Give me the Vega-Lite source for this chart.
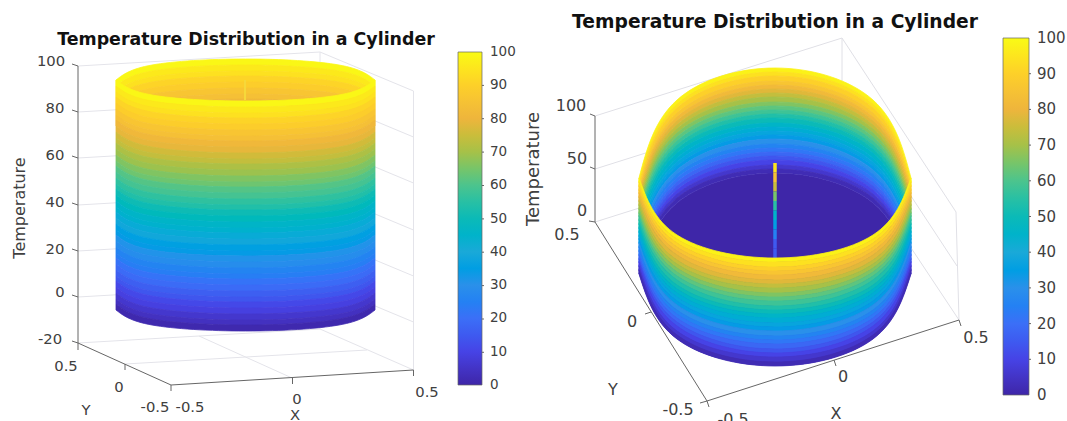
{"$schema":"https://vega.github.io/schema/vega-lite/v6.json","padding":0,"background":"white","spacing":0,"config":{"view":{"stroke":null},"text":{"font":"DejaVu Sans","color":"#404040"},"title":{"font":"DejaVu Sans","fontWeight":"bold","color":"#111"},"legend":{"labelFont":"DejaVu Sans","labelColor":"#404040"}},
"resolve":{"scale":{"color":"independent","stroke":"independent"}},
"datasets":{
"lgrid":[{"a":78,"b":66,"a2":320,"b2":52},{"a":320,"b":52,"a2":413.5,"b2":91},{"a":78,"b":112,"a2":320,"b2":98},{"a":320,"b":98,"a2":413.5,"b2":137},{"a":78,"b":158,"a2":320,"b2":144},{"a":320,"b":144,"a2":413.5,"b2":183},{"a":78,"b":205,"a2":320,"b2":191},{"a":320,"b":191,"a2":413.5,"b2":230},{"a":78,"b":251,"a2":320,"b2":237},{"a":320,"b":237,"a2":413.5,"b2":276},{"a":78,"b":297,"a2":320,"b2":283},{"a":320,"b":283,"a2":413.5,"b2":322},{"a":78,"b":343,"a2":320,"b2":329},{"a":320,"b":329,"a2":413.5,"b2":370},{"a":320,"b":52,"a2":320,"b2":329},{"a":413.5,"b":91,"a2":413.5,"b2":370},{"a":292,"b":378,"a2":199,"b2":336},{"a":125,"b":364,"a2":367,"b2":350}],
"laxis":[{"a":78,"b":66,"a2":78,"b2":350},{"a":78,"b":343,"a2":171,"b2":385},{"a":171,"b":385,"a2":413.5,"b2":370},{"a":72,"b":64,"a2":78,"b2":66},{"a":72,"b":110,"a2":78,"b2":112},{"a":72,"b":156,"a2":78,"b2":158},{"a":72,"b":203,"a2":78,"b2":205},{"a":72,"b":249,"a2":78,"b2":251},{"a":72,"b":295,"a2":78,"b2":297},{"a":72,"b":341,"a2":78,"b2":343},{"a":125,"b":364,"a2":125,"b2":370},{"a":292.5,"b":378,"a2":292.5,"b2":384},{"a":413.5,"b":370,"a2":413.5,"b2":376},{"a":171,"b":385,"a2":171,"b2":391},{"a":481,"b":352.3,"a2":484,"b2":352.3},{"a":481,"b":319,"a2":484,"b2":319},{"a":481,"b":285.6,"a2":484,"b2":285.6},{"a":481,"b":252.2,"a2":484,"b2":252.2},{"a":481,"b":218.9,"a2":484,"b2":218.9},{"a":481,"b":185.5,"a2":484,"b2":185.5},{"a":481,"b":152.1,"a2":484,"b2":152.1},{"a":481,"b":118.7,"a2":484,"b2":118.7},{"a":481,"b":85.4,"a2":484,"b2":85.4}],
"lspike":[{"T":92,"a":245,"b":80,"a2":245,"b2":100}],
"ltext":[{"t":"100","a":51,"b":62},{"t":"80","a":55,"b":109},{"t":"60","a":55,"b":156},{"t":"40","a":55,"b":203},{"t":"20","a":55,"b":250},{"t":"0","a":60,"b":293},{"t":"-20","a":50,"b":340},{"t":"0.5","a":66,"b":367},{"t":"0","a":119,"b":388},{"t":"-0.5","a":155,"b":408},{"t":"-0.5","a":190,"b":408},{"t":"0","a":297,"b":400},{"t":"0.5","a":427,"b":393},{"t":"Y","a":86,"b":411},{"t":"X","a":295,"b":416}],
"ltitle":[{"t":"Temperature","a":20,"b":208}],
"lback":[
{"T":99,"a":116,"b":80,"c":86},{"T":99,"a":152,"b":65,"c":71},{"T":99,"a":245.5,"b":59,"c":65},{"T":99,"a":339,"b":65,"c":71},{"T":99,"a":375,"b":80,"c":86},
{"T":96,"a":116,"b":86,"c":92},{"T":96,"a":152,"b":71,"c":77},{"T":96,"a":245.5,"b":65,"c":71},{"T":96,"a":339,"b":71,"c":77},{"T":96,"a":375,"b":86,"c":92},
{"T":94,"a":116,"b":92,"c":97},{"T":94,"a":152,"b":77,"c":82},{"T":94,"a":245.5,"b":71,"c":76},{"T":94,"a":339,"b":77,"c":82},{"T":94,"a":375,"b":92,"c":97},
{"T":91,"a":116,"b":97,"c":103},{"T":91,"a":152,"b":82,"c":88},{"T":91,"a":245.5,"b":76,"c":82},{"T":91,"a":339,"b":82,"c":88},{"T":91,"a":375,"b":97,"c":103},
{"T":89,"a":116,"b":103,"c":109},{"T":89,"a":152,"b":88,"c":94},{"T":89,"a":245.5,"b":82,"c":88},{"T":89,"a":339,"b":88,"c":94},{"T":89,"a":375,"b":103,"c":109},
{"T":86,"a":116,"b":109,"c":115},{"T":86,"a":152,"b":94,"c":100},{"T":86,"a":245.5,"b":88,"c":94},{"T":86,"a":339,"b":94,"c":100},{"T":86,"a":375,"b":109,"c":115},
{"T":84,"a":116,"b":115,"c":120},{"T":84,"a":152,"b":100,"c":105},{"T":84,"a":245.5,"b":94,"c":99},{"T":84,"a":339,"b":100,"c":105},{"T":84,"a":375,"b":115,"c":120},
{"T":81,"a":116,"b":120,"c":126},{"T":81,"a":152,"b":105,"c":111},{"T":81,"a":245.5,"b":99,"c":105},{"T":81,"a":339,"b":105,"c":111},{"T":81,"a":375,"b":120,"c":126}],
"lfront":[
{"T":99,"a":116,"b":80,"c":86},{"T":99,"a":152,"b":95,"c":101},{"T":99,"a":245.5,"b":101,"c":107},{"T":99,"a":339,"b":95,"c":101},{"T":99,"a":375,"b":80,"c":86},
{"T":96,"a":116,"b":86,"c":92},{"T":96,"a":152,"b":101,"c":107},{"T":96,"a":245.5,"b":107,"c":113},{"T":96,"a":339,"b":101,"c":107},{"T":96,"a":375,"b":86,"c":92},
{"T":94,"a":116,"b":92,"c":97},{"T":94,"a":152,"b":107,"c":112},{"T":94,"a":245.5,"b":113,"c":118},{"T":94,"a":339,"b":107,"c":112},{"T":94,"a":375,"b":92,"c":97},
{"T":91,"a":116,"b":97,"c":103},{"T":91,"a":152,"b":112,"c":118},{"T":91,"a":245.5,"b":118,"c":124},{"T":91,"a":339,"b":112,"c":118},{"T":91,"a":375,"b":97,"c":103},
{"T":89,"a":116,"b":103,"c":109},{"T":89,"a":152,"b":118,"c":124},{"T":89,"a":245.5,"b":124,"c":130},{"T":89,"a":339,"b":118,"c":124},{"T":89,"a":375,"b":103,"c":109},
{"T":86,"a":116,"b":109,"c":115},{"T":86,"a":152,"b":124,"c":130},{"T":86,"a":245.5,"b":130,"c":136},{"T":86,"a":339,"b":124,"c":130},{"T":86,"a":375,"b":109,"c":115},
{"T":84,"a":116,"b":115,"c":120},{"T":84,"a":152,"b":130,"c":135},{"T":84,"a":245.5,"b":136,"c":141},{"T":84,"a":339,"b":130,"c":135},{"T":84,"a":375,"b":115,"c":120},
{"T":81,"a":116,"b":120,"c":126},{"T":81,"a":152,"b":135,"c":141},{"T":81,"a":245.5,"b":141,"c":147},{"T":81,"a":339,"b":135,"c":141},{"T":81,"a":375,"b":120,"c":126},
{"T":79,"a":116,"b":126,"c":132},{"T":79,"a":152,"b":141,"c":147},{"T":79,"a":245.5,"b":147,"c":153},{"T":79,"a":339,"b":141,"c":147},{"T":79,"a":375,"b":126,"c":132},
{"T":76,"a":116,"b":132,"c":138},{"T":76,"a":152,"b":147,"c":153},{"T":76,"a":245.5,"b":153,"c":159},{"T":76,"a":339,"b":147,"c":153},{"T":76,"a":375,"b":132,"c":138},
{"T":74,"a":116,"b":138,"c":143},{"T":74,"a":152,"b":153,"c":158},{"T":74,"a":245.5,"b":159,"c":164},{"T":74,"a":339,"b":153,"c":158},{"T":74,"a":375,"b":138,"c":143},
{"T":71,"a":116,"b":143,"c":149},{"T":71,"a":152,"b":158,"c":164},{"T":71,"a":245.5,"b":164,"c":170},{"T":71,"a":339,"b":158,"c":164},{"T":71,"a":375,"b":143,"c":149},
{"T":69,"a":116,"b":149,"c":155},{"T":69,"a":152,"b":164,"c":170},{"T":69,"a":245.5,"b":170,"c":176},{"T":69,"a":339,"b":164,"c":170},{"T":69,"a":375,"b":149,"c":155},
{"T":66,"a":116,"b":155,"c":161},{"T":66,"a":152,"b":170,"c":176},{"T":66,"a":245.5,"b":176,"c":182},{"T":66,"a":339,"b":170,"c":176},{"T":66,"a":375,"b":155,"c":161},
{"T":64,"a":116,"b":161,"c":166},{"T":64,"a":152,"b":176,"c":181},{"T":64,"a":245.5,"b":182,"c":187},{"T":64,"a":339,"b":176,"c":181},{"T":64,"a":375,"b":161,"c":166},
{"T":61,"a":116,"b":166,"c":172},{"T":61,"a":152,"b":181,"c":187},{"T":61,"a":245.5,"b":187,"c":193},{"T":61,"a":339,"b":181,"c":187},{"T":61,"a":375,"b":166,"c":172},
{"T":59,"a":116,"b":172,"c":178},{"T":59,"a":152,"b":187,"c":193},{"T":59,"a":245.5,"b":193,"c":199},{"T":59,"a":339,"b":187,"c":193},{"T":59,"a":375,"b":172,"c":178},
{"T":56,"a":116,"b":178,"c":184},{"T":56,"a":152,"b":193,"c":199},{"T":56,"a":245.5,"b":199,"c":205},{"T":56,"a":339,"b":193,"c":199},{"T":56,"a":375,"b":178,"c":184},
{"T":54,"a":116,"b":184,"c":189},{"T":54,"a":152,"b":199,"c":204},{"T":54,"a":245.5,"b":205,"c":210},{"T":54,"a":339,"b":199,"c":204},{"T":54,"a":375,"b":184,"c":189},
{"T":51,"a":116,"b":189,"c":195},{"T":51,"a":152,"b":204,"c":210},{"T":51,"a":245.5,"b":210,"c":216},{"T":51,"a":339,"b":204,"c":210},{"T":51,"a":375,"b":189,"c":195},
{"T":49,"a":116,"b":195,"c":201},{"T":49,"a":152,"b":210,"c":216},{"T":49,"a":245.5,"b":216,"c":222},{"T":49,"a":339,"b":210,"c":216},{"T":49,"a":375,"b":195,"c":201},
{"T":46,"a":116,"b":201,"c":207},{"T":46,"a":152,"b":216,"c":222},{"T":46,"a":245.5,"b":222,"c":228},{"T":46,"a":339,"b":216,"c":222},{"T":46,"a":375,"b":201,"c":207},
{"T":44,"a":116,"b":207,"c":212},{"T":44,"a":152,"b":222,"c":227},{"T":44,"a":245.5,"b":228,"c":233},{"T":44,"a":339,"b":222,"c":227},{"T":44,"a":375,"b":207,"c":212},
{"T":41,"a":116,"b":212,"c":218},{"T":41,"a":152,"b":227,"c":233},{"T":41,"a":245.5,"b":233,"c":239},{"T":41,"a":339,"b":227,"c":233},{"T":41,"a":375,"b":212,"c":218},
{"T":39,"a":116,"b":218,"c":224},{"T":39,"a":152,"b":233,"c":239},{"T":39,"a":245.5,"b":239,"c":245},{"T":39,"a":339,"b":233,"c":239},{"T":39,"a":375,"b":218,"c":224},
{"T":36,"a":116,"b":224,"c":230},{"T":36,"a":152,"b":239,"c":245},{"T":36,"a":245.5,"b":245,"c":251},{"T":36,"a":339,"b":239,"c":245},{"T":36,"a":375,"b":224,"c":230},
{"T":34,"a":116,"b":230,"c":235},{"T":34,"a":152,"b":245,"c":250},{"T":34,"a":245.5,"b":251,"c":256},{"T":34,"a":339,"b":245,"c":250},{"T":34,"a":375,"b":230,"c":235},
{"T":31,"a":116,"b":235,"c":241},{"T":31,"a":152,"b":250,"c":256},{"T":31,"a":245.5,"b":256,"c":262},{"T":31,"a":339,"b":250,"c":256},{"T":31,"a":375,"b":235,"c":241},
{"T":29,"a":116,"b":241,"c":247},{"T":29,"a":152,"b":256,"c":262},{"T":29,"a":245.5,"b":262,"c":268},{"T":29,"a":339,"b":256,"c":262},{"T":29,"a":375,"b":241,"c":247},
{"T":26,"a":116,"b":247,"c":253},{"T":26,"a":152,"b":262,"c":268},{"T":26,"a":245.5,"b":268,"c":274},{"T":26,"a":339,"b":262,"c":268},{"T":26,"a":375,"b":247,"c":253},
{"T":24,"a":116,"b":253,"c":258},{"T":24,"a":152,"b":268,"c":273},{"T":24,"a":245.5,"b":274,"c":279},{"T":24,"a":339,"b":268,"c":273},{"T":24,"a":375,"b":253,"c":258},
{"T":21,"a":116,"b":258,"c":264},{"T":21,"a":152,"b":273,"c":279},{"T":21,"a":245.5,"b":279,"c":285},{"T":21,"a":339,"b":273,"c":279},{"T":21,"a":375,"b":258,"c":264},
{"T":19,"a":116,"b":264,"c":270},{"T":19,"a":152,"b":279,"c":285},{"T":19,"a":245.5,"b":285,"c":291},{"T":19,"a":339,"b":279,"c":285},{"T":19,"a":375,"b":264,"c":270},
{"T":16,"a":116,"b":270,"c":276},{"T":16,"a":152,"b":285,"c":291},{"T":16,"a":245.5,"b":291,"c":297},{"T":16,"a":339,"b":285,"c":291},{"T":16,"a":375,"b":270,"c":276},
{"T":14,"a":116,"b":276,"c":281},{"T":14,"a":152,"b":291,"c":296},{"T":14,"a":245.5,"b":297,"c":302},{"T":14,"a":339,"b":291,"c":296},{"T":14,"a":375,"b":276,"c":281},
{"T":11,"a":116,"b":281,"c":287},{"T":11,"a":152,"b":296,"c":302},{"T":11,"a":245.5,"b":302,"c":308},{"T":11,"a":339,"b":296,"c":302},{"T":11,"a":375,"b":281,"c":287},
{"T":9,"a":116,"b":287,"c":293},{"T":9,"a":152,"b":302,"c":308},{"T":9,"a":245.5,"b":308,"c":314},{"T":9,"a":339,"b":302,"c":308},{"T":9,"a":375,"b":287,"c":293},
{"T":6,"a":116,"b":293,"c":299},{"T":6,"a":152,"b":308,"c":314},{"T":6,"a":245.5,"b":314,"c":320},{"T":6,"a":339,"b":308,"c":314},{"T":6,"a":375,"b":293,"c":299},
{"T":4,"a":116,"b":299,"c":304},{"T":4,"a":152,"b":314,"c":319},{"T":4,"a":245.5,"b":320,"c":325},{"T":4,"a":339,"b":314,"c":319},{"T":4,"a":375,"b":299,"c":304},
{"T":1,"a":116,"b":304,"c":310},{"T":1,"a":152,"b":319,"c":325},{"T":1,"a":245.5,"b":325,"c":331},{"T":1,"a":339,"b":319,"c":325},{"T":1,"a":375,"b":304,"c":310}],
"rgrid":[{"a":595,"b":116,"a2":842,"b2":38},{"a":595,"b":169,"a2":842,"b2":91},{"a":595,"b":222,"a2":842,"b2":144},{"a":842,"b":38,"a2":956,"b2":212},{"a":842,"b":91,"a2":957,"b2":266},{"a":842,"b":144,"a2":959,"b2":320},{"a":842,"b":38,"a2":842,"b2":144},{"a":956,"b":212,"a2":959,"b2":320}],
"raxis":[{"a":595,"b":116,"a2":595,"b2":222},{"a":595,"b":222,"a2":707,"b2":401},{"a":707,"b":401,"a2":959,"b2":320},{"a":590,"b":114,"a2":595,"b2":116},{"a":590,"b":167,"a2":595,"b2":169},{"a":589,"b":221,"a2":595,"b2":222},{"a":645,"b":314,"a2":651,"b2":312},{"a":700,"b":403,"a2":707,"b2":401},{"a":834,"b":360,"a2":836,"b2":366},{"a":959,"b":320,"a2":961,"b2":326},{"a":707,"b":401,"a2":709,"b2":407},{"a":1028,"b":359.3,"a2":1031,"b2":359.3},{"a":1028,"b":323.6,"a2":1031,"b2":323.6},{"a":1028,"b":287.9,"a2":1031,"b2":287.9},{"a":1028,"b":252.2,"a2":1031,"b2":252.2},{"a":1028,"b":216.5,"a2":1031,"b2":216.5},{"a":1028,"b":180.8,"a2":1031,"b2":180.8},{"a":1028,"b":145.1,"a2":1031,"b2":145.1},{"a":1028,"b":109.4,"a2":1031,"b2":109.4},{"a":1028,"b":73.7,"a2":1031,"b2":73.7}],
"rspike":[{"T":95,"a":775,"b":163,"a2":775,"b2":172.5},{"T":85,"a":775,"b":172.5,"a2":775,"b2":182},{"T":75,"a":775,"b":182,"a2":775,"b2":191.5},{"T":65,"a":775,"b":191.5,"a2":775,"b2":201},{"T":55,"a":775,"b":201,"a2":775,"b2":210.5},{"T":45,"a":775,"b":210.5,"a2":775,"b2":220},{"T":35,"a":775,"b":220,"a2":775,"b2":229.5},{"T":25,"a":775,"b":229.5,"a2":775,"b2":239},{"T":15,"a":775,"b":239,"a2":775,"b2":248.5},{"T":15,"a":775,"b":248.5,"a2":775,"b2":258}],
"rtext":[{"t":"100","a":571,"b":106},{"t":"50","a":577,"b":159},{"t":"0","a":582,"b":211},{"t":"0.5","a":567,"b":235},{"t":"0","a":632,"b":322},{"t":"-0.5","a":678,"b":410},{"t":"-0.5","a":733,"b":420},{"t":"0","a":843,"b":377},{"t":"0.5","a":976,"b":338},{"t":"Y","a":613,"b":390},{"t":"X","a":836,"b":414}],
"rtitle":[{"t":"Temperature","a":534,"b":169}],
"rfloor":[{"a":639,"b":274,"c":274},{"a":677,"b":203,"c":339},{"a":775,"b":173,"c":366},{"a":873,"b":203,"c":339},{"a":911,"b":274,"c":274}],
"rback":[
{"T":98,"a":639,"b":178,"c":182},{"T":98,"a":677,"b":100,"c":104},{"T":98,"a":775,"b":68,"c":72},{"T":98,"a":873,"b":100,"c":104},{"T":98,"a":911,"b":178,"c":182},
{"T":94,"a":639,"b":182,"c":186},{"T":94,"a":677,"b":104,"c":108},{"T":94,"a":775,"b":72,"c":76},{"T":94,"a":873,"b":104,"c":108},{"T":94,"a":911,"b":182,"c":186},
{"T":90,"a":639,"b":186,"c":190},{"T":90,"a":677,"b":108,"c":113},{"T":90,"a":775,"b":76,"c":81},{"T":90,"a":873,"b":108,"c":113},{"T":90,"a":911,"b":186,"c":190},
{"T":86,"a":639,"b":190,"c":193},{"T":86,"a":677,"b":113,"c":117},{"T":86,"a":775,"b":81,"c":85},{"T":86,"a":873,"b":113,"c":117},{"T":86,"a":911,"b":190,"c":193},
{"T":82,"a":639,"b":193,"c":197},{"T":82,"a":677,"b":117,"c":121},{"T":82,"a":775,"b":85,"c":89},{"T":82,"a":873,"b":117,"c":121},{"T":82,"a":911,"b":193,"c":197},
{"T":78,"a":639,"b":197,"c":201},{"T":78,"a":677,"b":121,"c":125},{"T":78,"a":775,"b":89,"c":93},{"T":78,"a":873,"b":121,"c":125},{"T":78,"a":911,"b":197,"c":201},
{"T":74,"a":639,"b":201,"c":205},{"T":74,"a":677,"b":125,"c":129},{"T":74,"a":775,"b":93,"c":97},{"T":74,"a":873,"b":125,"c":129},{"T":74,"a":911,"b":201,"c":205},
{"T":70,"a":639,"b":205,"c":209},{"T":70,"a":677,"b":129,"c":133},{"T":70,"a":775,"b":97,"c":102},{"T":70,"a":873,"b":129,"c":133},{"T":70,"a":911,"b":205,"c":209},
{"T":66,"a":639,"b":209,"c":213},{"T":66,"a":677,"b":133,"c":137},{"T":66,"a":775,"b":102,"c":106},{"T":66,"a":873,"b":133,"c":137},{"T":66,"a":911,"b":209,"c":213},
{"T":62,"a":639,"b":213,"c":216},{"T":62,"a":677,"b":137,"c":141},{"T":62,"a":775,"b":106,"c":110},{"T":62,"a":873,"b":137,"c":141},{"T":62,"a":911,"b":213,"c":216},
{"T":58,"a":639,"b":216,"c":220},{"T":58,"a":677,"b":141,"c":145},{"T":58,"a":775,"b":110,"c":114},{"T":58,"a":873,"b":141,"c":145},{"T":58,"a":911,"b":216,"c":220},
{"T":54,"a":639,"b":220,"c":224},{"T":54,"a":677,"b":145,"c":149},{"T":54,"a":775,"b":114,"c":118},{"T":54,"a":873,"b":145,"c":149},{"T":54,"a":911,"b":220,"c":224},
{"T":50,"a":639,"b":224,"c":228},{"T":50,"a":677,"b":149,"c":153},{"T":50,"a":775,"b":118,"c":123},{"T":50,"a":873,"b":149,"c":153},{"T":50,"a":911,"b":224,"c":228},
{"T":46,"a":639,"b":228,"c":232},{"T":46,"a":677,"b":153,"c":158},{"T":46,"a":775,"b":123,"c":127},{"T":46,"a":873,"b":153,"c":158},{"T":46,"a":911,"b":228,"c":232},
{"T":42,"a":639,"b":232,"c":236},{"T":42,"a":677,"b":158,"c":162},{"T":42,"a":775,"b":127,"c":131},{"T":42,"a":873,"b":158,"c":162},{"T":42,"a":911,"b":232,"c":236},
{"T":38,"a":639,"b":236,"c":239},{"T":38,"a":677,"b":162,"c":166},{"T":38,"a":775,"b":131,"c":135},{"T":38,"a":873,"b":162,"c":166},{"T":38,"a":911,"b":236,"c":239},
{"T":34,"a":639,"b":239,"c":243},{"T":34,"a":677,"b":166,"c":170},{"T":34,"a":775,"b":135,"c":139},{"T":34,"a":873,"b":166,"c":170},{"T":34,"a":911,"b":239,"c":243},
{"T":30,"a":639,"b":243,"c":247},{"T":30,"a":677,"b":170,"c":174},{"T":30,"a":775,"b":139,"c":144},{"T":30,"a":873,"b":170,"c":174},{"T":30,"a":911,"b":243,"c":247},
{"T":26,"a":639,"b":247,"c":251},{"T":26,"a":677,"b":174,"c":178},{"T":26,"a":775,"b":144,"c":148},{"T":26,"a":873,"b":174,"c":178},{"T":26,"a":911,"b":247,"c":251},
{"T":22,"a":639,"b":251,"c":255},{"T":22,"a":677,"b":178,"c":182},{"T":22,"a":775,"b":148,"c":152},{"T":22,"a":873,"b":178,"c":182},{"T":22,"a":911,"b":251,"c":255},
{"T":18,"a":639,"b":255,"c":259},{"T":18,"a":677,"b":182,"c":186},{"T":18,"a":775,"b":152,"c":156},{"T":18,"a":873,"b":182,"c":186},{"T":18,"a":911,"b":255,"c":259},
{"T":14,"a":639,"b":259,"c":262},{"T":14,"a":677,"b":186,"c":190},{"T":14,"a":775,"b":156,"c":160},{"T":14,"a":873,"b":186,"c":190},{"T":14,"a":911,"b":259,"c":262},
{"T":10,"a":639,"b":262,"c":266},{"T":10,"a":677,"b":190,"c":194},{"T":10,"a":775,"b":160,"c":165},{"T":10,"a":873,"b":190,"c":194},{"T":10,"a":911,"b":262,"c":266},
{"T":6,"a":639,"b":266,"c":270},{"T":6,"a":677,"b":194,"c":198},{"T":6,"a":775,"b":165,"c":169},{"T":6,"a":873,"b":194,"c":198},{"T":6,"a":911,"b":266,"c":270},
{"T":2,"a":639,"b":270,"c":274},{"T":2,"a":677,"b":198,"c":203},{"T":2,"a":775,"b":169,"c":173},{"T":2,"a":873,"b":198,"c":203},{"T":2,"a":911,"b":270,"c":274}],
"rfront":[
{"T":98,"a":639,"b":178,"c":182},{"T":98,"a":677,"b":235,"c":239},{"T":98,"a":775,"b":258,"c":262},{"T":98,"a":873,"b":235,"c":239},{"T":98,"a":911,"b":178,"c":182},
{"T":94,"a":639,"b":182,"c":186},{"T":94,"a":677,"b":239,"c":243},{"T":94,"a":775,"b":262,"c":267},{"T":94,"a":873,"b":239,"c":243},{"T":94,"a":911,"b":182,"c":186},
{"T":90,"a":639,"b":186,"c":190},{"T":90,"a":677,"b":243,"c":247},{"T":90,"a":775,"b":267,"c":271},{"T":90,"a":873,"b":243,"c":247},{"T":90,"a":911,"b":186,"c":190},
{"T":86,"a":639,"b":190,"c":193},{"T":86,"a":677,"b":247,"c":251},{"T":86,"a":775,"b":271,"c":275},{"T":86,"a":873,"b":247,"c":251},{"T":86,"a":911,"b":190,"c":193},
{"T":82,"a":639,"b":193,"c":197},{"T":82,"a":677,"b":251,"c":255},{"T":82,"a":775,"b":275,"c":280},{"T":82,"a":873,"b":251,"c":255},{"T":82,"a":911,"b":193,"c":197},
{"T":78,"a":639,"b":197,"c":201},{"T":78,"a":677,"b":255,"c":260},{"T":78,"a":775,"b":280,"c":284},{"T":78,"a":873,"b":255,"c":260},{"T":78,"a":911,"b":197,"c":201},
{"T":74,"a":639,"b":201,"c":205},{"T":74,"a":677,"b":260,"c":264},{"T":74,"a":775,"b":284,"c":288},{"T":74,"a":873,"b":260,"c":264},{"T":74,"a":911,"b":201,"c":205},
{"T":70,"a":639,"b":205,"c":209},{"T":70,"a":677,"b":264,"c":268},{"T":70,"a":775,"b":288,"c":293},{"T":70,"a":873,"b":264,"c":268},{"T":70,"a":911,"b":205,"c":209},
{"T":66,"a":639,"b":209,"c":213},{"T":66,"a":677,"b":268,"c":272},{"T":66,"a":775,"b":293,"c":297},{"T":66,"a":873,"b":268,"c":272},{"T":66,"a":911,"b":209,"c":213},
{"T":62,"a":639,"b":213,"c":216},{"T":62,"a":677,"b":272,"c":276},{"T":62,"a":775,"b":297,"c":301},{"T":62,"a":873,"b":272,"c":276},{"T":62,"a":911,"b":213,"c":216},
{"T":58,"a":639,"b":216,"c":220},{"T":58,"a":677,"b":276,"c":280},{"T":58,"a":775,"b":301,"c":306},{"T":58,"a":873,"b":276,"c":280},{"T":58,"a":911,"b":216,"c":220},
{"T":54,"a":639,"b":220,"c":224},{"T":54,"a":677,"b":280,"c":285},{"T":54,"a":775,"b":306,"c":310},{"T":54,"a":873,"b":280,"c":285},{"T":54,"a":911,"b":220,"c":224},
{"T":50,"a":639,"b":224,"c":228},{"T":50,"a":677,"b":285,"c":289},{"T":50,"a":775,"b":310,"c":314},{"T":50,"a":873,"b":285,"c":289},{"T":50,"a":911,"b":224,"c":228},
{"T":46,"a":639,"b":228,"c":232},{"T":46,"a":677,"b":289,"c":293},{"T":46,"a":775,"b":314,"c":318},{"T":46,"a":873,"b":289,"c":293},{"T":46,"a":911,"b":228,"c":232},
{"T":42,"a":639,"b":232,"c":236},{"T":42,"a":677,"b":293,"c":297},{"T":42,"a":775,"b":318,"c":323},{"T":42,"a":873,"b":293,"c":297},{"T":42,"a":911,"b":232,"c":236},
{"T":38,"a":639,"b":236,"c":239},{"T":38,"a":677,"b":297,"c":301},{"T":38,"a":775,"b":323,"c":327},{"T":38,"a":873,"b":297,"c":301},{"T":38,"a":911,"b":236,"c":239},
{"T":34,"a":639,"b":239,"c":243},{"T":34,"a":677,"b":301,"c":305},{"T":34,"a":775,"b":327,"c":331},{"T":34,"a":873,"b":301,"c":305},{"T":34,"a":911,"b":239,"c":243},
{"T":30,"a":639,"b":243,"c":247},{"T":30,"a":677,"b":305,"c":310},{"T":30,"a":775,"b":331,"c":336},{"T":30,"a":873,"b":305,"c":310},{"T":30,"a":911,"b":243,"c":247},
{"T":26,"a":639,"b":247,"c":251},{"T":26,"a":677,"b":310,"c":314},{"T":26,"a":775,"b":336,"c":340},{"T":26,"a":873,"b":310,"c":314},{"T":26,"a":911,"b":247,"c":251},
{"T":22,"a":639,"b":251,"c":255},{"T":22,"a":677,"b":314,"c":318},{"T":22,"a":775,"b":340,"c":344},{"T":22,"a":873,"b":314,"c":318},{"T":22,"a":911,"b":251,"c":255},
{"T":18,"a":639,"b":255,"c":259},{"T":18,"a":677,"b":318,"c":322},{"T":18,"a":775,"b":344,"c":349},{"T":18,"a":873,"b":318,"c":322},{"T":18,"a":911,"b":255,"c":259},
{"T":14,"a":639,"b":259,"c":262},{"T":14,"a":677,"b":322,"c":326},{"T":14,"a":775,"b":349,"c":353},{"T":14,"a":873,"b":322,"c":326},{"T":14,"a":911,"b":259,"c":262},
{"T":10,"a":639,"b":262,"c":266},{"T":10,"a":677,"b":326,"c":331},{"T":10,"a":775,"b":353,"c":357},{"T":10,"a":873,"b":326,"c":331},{"T":10,"a":911,"b":262,"c":266},
{"T":6,"a":639,"b":266,"c":270},{"T":6,"a":677,"b":331,"c":335},{"T":6,"a":775,"b":357,"c":362},{"T":6,"a":873,"b":331,"c":335},{"T":6,"a":911,"b":266,"c":270},
{"T":2,"a":639,"b":270,"c":274},{"T":2,"a":677,"b":335,"c":339},{"T":2,"a":775,"b":362,"c":366},{"T":2,"a":873,"b":335,"c":339},{"T":2,"a":911,"b":270,"c":274}]
},
"hconcat":[
{"width":520,"height":421,"title":{"text":"Temperature Distribution in a Cylinder","fontSize":17.4,"anchor":"middle","dx":-14,"dy":48,"offset":0},
"encoding":{"x":{"field":"a","type":"quantitative","axis":null,"scale":{"domain":[0,520],"nice":false,"zero":false}},"y":{"field":"b","type":"quantitative","axis":null,"scale":{"domain":[421,0],"nice":false,"zero":false}}},
"layer":[
{"data":{"name":"lgrid"},"mark":{"type":"rule","color":"#e4e4ea","strokeWidth":1},"encoding":{"x2":{"field":"a2"},"y2":{"field":"b2"}}},
{"data":{"name":"lback"},"mark":{"type":"area","interpolate":"natural","strokeWidth":0.8},"encoding":{"y2":{"field":"c"},"detail":{"field":"T","type":"nominal"},"color":{"field":"T","type":"quantitative","scale":{"domain":[0,10,20,30,40,50,60,70,80,90,100],"range":["#3e26a8","#4643e6","#3b6ff7","#2a90ea","#1aa9d8","#0bbab7","#4cc48d","#a6c148","#eeb53c","#fdd029","#f9fb15"]},"legend":{"orient":"none","legendX":458,"legendY":52,"title":null,"type":"gradient","direction":"vertical","gradientLength":333,"gradientThickness":24,"values":[0,10,20,30,40,50,60,70,80,90,100],"labelFontSize":13.5,"labelOffset":8,"labelOverlap":false,"gradientStrokeColor":"#666","gradientStrokeWidth":0.7,"padding":0,"encode":{"labels":{"update":{"baseline":{"value":"middle"}}}}}},"stroke":{"field":"T","type":"quantitative","legend":null,"scale":{"domain":[0,10,20,30,40,50,60,70,80,90,100.001],"range":["#3e26a8","#4643e6","#3b6ff7","#2a90ea","#1aa9d8","#0bbab7","#4cc48d","#a6c148","#eeb53c","#fdd029","#f9fb15"]}}}},
{"data":{"name":"lspike"},"mark":{"type":"rule","strokeWidth":2,"color":"#f6d83a"},"encoding":{"x2":{"field":"a2"},"y2":{"field":"b2"}}},
{"data":{"name":"lfront"},"mark":{"type":"area","interpolate":"natural","strokeWidth":0.8},"encoding":{"y2":{"field":"c"},"detail":{"field":"T","type":"nominal"},"color":{"field":"T","type":"quantitative","legend":null,"scale":{"domain":[0,10,20,30,40,50,60,70,80,90,100],"range":["#3e26a8","#4643e6","#3b6ff7","#2a90ea","#1aa9d8","#0bbab7","#4cc48d","#a6c148","#eeb53c","#fdd029","#f9fb15"]}},"stroke":{"field":"T","type":"quantitative","legend":null,"scale":{"domain":[0,10,20,30,40,50,60,70,80,90,100.001],"range":["#3e26a8","#4643e6","#3b6ff7","#2a90ea","#1aa9d8","#0bbab7","#4cc48d","#a6c148","#eeb53c","#fdd029","#f9fb15"]}}}},
{"data":{"name":"laxis"},"mark":{"type":"rule","color":"#666","strokeWidth":1},"encoding":{"x2":{"field":"a2"},"y2":{"field":"b2"}}},
{"data":{"name":"ltext"},"mark":{"type":"text","fontSize":14.8,"align":"center","baseline":"middle"},"encoding":{"text":{"field":"t"}}},
{"data":{"name":"ltitle"},"mark":{"type":"text","fontSize":16,"align":"center","baseline":"middle","angle":270},"encoding":{"text":{"field":"t"}}}
]},
{"width":547,"height":421,"title":{"text":"Temperature Distribution in a Cylinder","fontSize":18.7,"anchor":"middle","dx":-18.5,"dy":32,"offset":0},
"encoding":{"x":{"field":"a","type":"quantitative","axis":null,"scale":{"domain":[520,1067],"nice":false,"zero":false}},"y":{"field":"b","type":"quantitative","axis":null,"scale":{"domain":[421,0],"nice":false,"zero":false}}},
"layer":[
{"data":{"name":"rgrid"},"mark":{"type":"rule","color":"#e0e0e6","strokeWidth":1},"encoding":{"x2":{"field":"a2"},"y2":{"field":"b2"}}},
{"data":{"name":"rfloor"},"mark":{"type":"area","interpolate":"natural","color":"#3e26a8"},"encoding":{"y2":{"field":"c"}}},
{"data":{"name":"rback"},"mark":{"type":"area","interpolate":"natural","strokeWidth":0.8},"encoding":{"y2":{"field":"c"},"detail":{"field":"T","type":"nominal"},"color":{"field":"T","type":"quantitative","scale":{"domain":[0,10,20,30,40,50,60,70,80,90,100],"range":["#3e26a8","#4643e6","#3b6ff7","#2a90ea","#1aa9d8","#0bbab7","#4cc48d","#a6c148","#eeb53c","#fdd029","#f9fb15"]},"legend":{"orient":"none","legendX":483,"legendY":38,"title":null,"type":"gradient","direction":"vertical","gradientLength":357,"gradientThickness":26,"values":[0,10,20,30,40,50,60,70,80,90,100],"labelFontSize":15,"labelOffset":8,"labelOverlap":false,"gradientStrokeColor":"#666","gradientStrokeWidth":0.7,"padding":0,"encode":{"labels":{"update":{"baseline":{"value":"middle"}}}}}},"stroke":{"field":"T","type":"quantitative","legend":null,"scale":{"domain":[0,10,20,30,40,50,60,70,80,90,100.001],"range":["#3e26a8","#4643e6","#3b6ff7","#2a90ea","#1aa9d8","#0bbab7","#4cc48d","#a6c148","#eeb53c","#fdd029","#f9fb15"]}}}},
{"data":{"name":"rspike"},"mark":{"type":"rule","strokeWidth":3.5},"encoding":{"x2":{"field":"a2"},"y2":{"field":"b2"},"stroke":{"field":"T","type":"quantitative","legend":null,"scale":{"domain":[0,10,20,30,40,50,60,70,80,90,100.001],"range":["#3e26a8","#4643e6","#3b6ff7","#2a90ea","#1aa9d8","#0bbab7","#4cc48d","#a6c148","#eeb53c","#fdd029","#f9fb15"]}}}},
{"data":{"name":"rfront"},"mark":{"type":"area","interpolate":"natural","strokeWidth":0.8},"encoding":{"y2":{"field":"c"},"detail":{"field":"T","type":"nominal"},"color":{"field":"T","type":"quantitative","legend":null,"scale":{"domain":[0,10,20,30,40,50,60,70,80,90,100],"range":["#3e26a8","#4643e6","#3b6ff7","#2a90ea","#1aa9d8","#0bbab7","#4cc48d","#a6c148","#eeb53c","#fdd029","#f9fb15"]}},"stroke":{"field":"T","type":"quantitative","legend":null,"scale":{"domain":[0,10,20,30,40,50,60,70,80,90,100.001],"range":["#3e26a8","#4643e6","#3b6ff7","#2a90ea","#1aa9d8","#0bbab7","#4cc48d","#a6c148","#eeb53c","#fdd029","#f9fb15"]}}}},
{"data":{"name":"raxis"},"mark":{"type":"rule","color":"#666","strokeWidth":1},"encoding":{"x2":{"field":"a2"},"y2":{"field":"b2"}}},
{"data":{"name":"rtext"},"mark":{"type":"text","fontSize":16,"align":"center","baseline":"middle","clip":true},"encoding":{"text":{"field":"t"}}},
{"data":{"name":"rtitle"},"mark":{"type":"text","fontSize":18,"align":"center","baseline":"middle","angle":270},"encoding":{"text":{"field":"t"}}}
]}
]}
